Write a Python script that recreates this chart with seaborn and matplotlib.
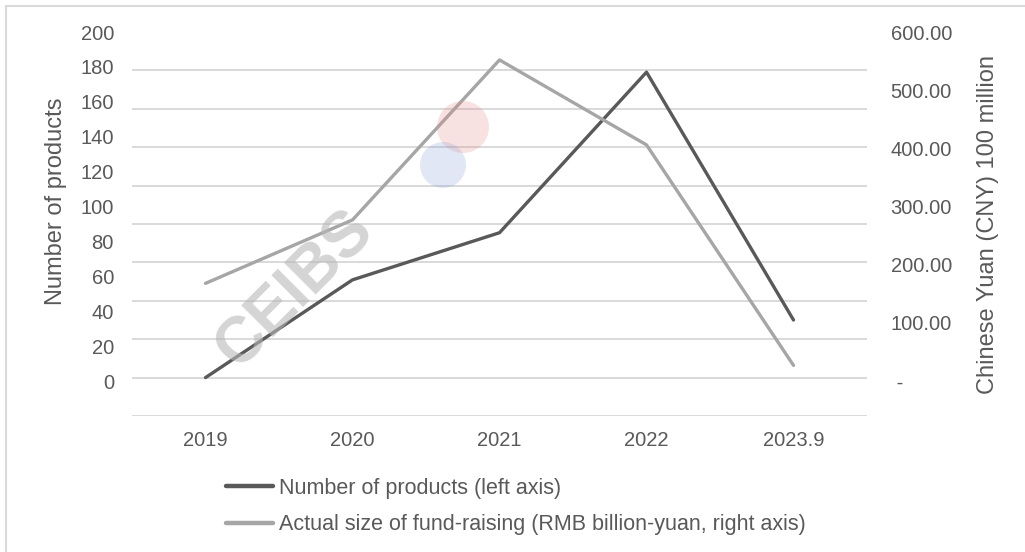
import numpy as np
import pandas as pd
import matplotlib.pyplot as plt
import seaborn as sns
from matplotlib.ticker import FuncFormatter
from matplotlib.patches import Ellipse
from matplotlib.lines import Line2D

# Datos
years = ['2019', '2020', '2021', '2022', '2023.9']
num_products = [2, 58, 85, 177, 35]
fund_size = [168, 277, 552, 406, 27]

left_ticks = [0, 20, 40, 60, 80, 100, 120, 140, 160, 180, 200]
right_ticks = [0, 100, 200, 300, 400, 500, 600]

label_products = 'Number of products (left axis)'
label_fund = 'Actual size of fund-raising (RMB billion-yuan, right axis)'

df = pd.DataFrame({'year': years, 'products': num_products, 'fund': fund_size})

sns.set_theme(style='white')
plt.rcParams['font.family'] = ['Liberation Sans', 'DejaVu Sans']

text_color = '#595959'
dark = '#595959'
light = '#a6a6a6'
grid_color = '#d9d9d9'

fig = plt.figure(figsize=(10.25, 5.52), dpi=100)
ax = fig.add_axes([132 / 1025, 1 - 416 / 552, 735 / 1025, 384 / 552])
ax2 = ax.twinx()

# Lineas
sns.lineplot(data=df, x='year', y='products', ax=ax, color=dark, linewidth=2.4,
             sort=False, legend=False)
sns.lineplot(data=df, x='year', y='fund', ax=ax2, color=light, linewidth=2.4,
             sort=False, legend=False)

# Eje izquierdo
ax.set_xlim(-0.5, len(years) - 0.5)
ax.set_ylim(-20, 200)
ax.set_yticks(left_ticks)
ax.set_yticks(np.linspace(-20, 200, 11), minor=True)
ax.grid(False)
ax.grid(True, which='minor', axis='y', color=grid_color, linewidth=1.4)
ax.set_axisbelow(True)
ax.tick_params(axis='y', which='both', length=0, labelsize=14.5, labelcolor=text_color, pad=13)
ax.tick_params(axis='x', length=0, labelsize=14.5, labelcolor=text_color, pad=11)
ax.set_xlabel('')
ax.set_ylabel('Number of products', fontsize=17, color=text_color)
ax.yaxis.set_label_coords(-0.088, 0.56)

# Eje derecho
ax2.set_ylim(-60, 600)
ax2.set_yticks(right_ticks)
ax2.yaxis.set_major_formatter(FuncFormatter(lambda v, p: ' -' if v == 0 else f'{v:,.2f}'))
ax2.tick_params(axis='y', length=0, labelsize=14.5, labelcolor=text_color, pad=17)
ax2.grid(False)
ax2.set_ylabel('Chinese Yuan (CNY) 100 million', fontsize=17, color=text_color)
ax2.yaxis.set_label_coords(1.150, 0.5)

for a in (ax, ax2):
    for s in a.spines.values():
        s.set_visible(False)

# Leyenda
handles = [Line2D([], [], color=dark, linewidth=3.2),
           Line2D([], [], color=light, linewidth=3.2)]
fig.legend(handles, [label_products, label_fund], loc='upper left',
           bbox_to_anchor=(226 / 1025, 1 - 478 / 552), frameon=False,
           fontsize=15.5, handlelength=2.2, handletextpad=0.25, labelspacing=0.7,
           borderpad=0, borderaxespad=0, labelcolor=text_color)

# Marca de agua
fig.text(295 / 1025, 1 - 290 / 552, 'CEIBS', rotation=45, fontsize=46,
         fontweight='bold', color='#b8b8b8', alpha=0.6, ha='center', va='center')
fig.add_artist(Ellipse((463 / 1025, 1 - 127 / 552), 52 / 1025, 52 / 552,
                       transform=fig.transFigure, color='#e58a8a', alpha=0.25, lw=0))
fig.add_artist(Ellipse((443 / 1025, 1 - 165 / 552), 46 / 1025, 46 / 552,
                       transform=fig.transFigure, color='#8aa2d6', alpha=0.25, lw=0))

# Marco
fig.add_artist(Line2D([6 / 1025, 6 / 1025], [0, 1 - 6 / 552], color=grid_color,
                      linewidth=1.5, transform=fig.transFigure))
fig.add_artist(Line2D([6 / 1025, 1], [1 - 6 / 552, 1 - 6 / 552], color=grid_color,
                      linewidth=1.5, transform=fig.transFigure))

fig.savefig('out.png', dpi=100)
